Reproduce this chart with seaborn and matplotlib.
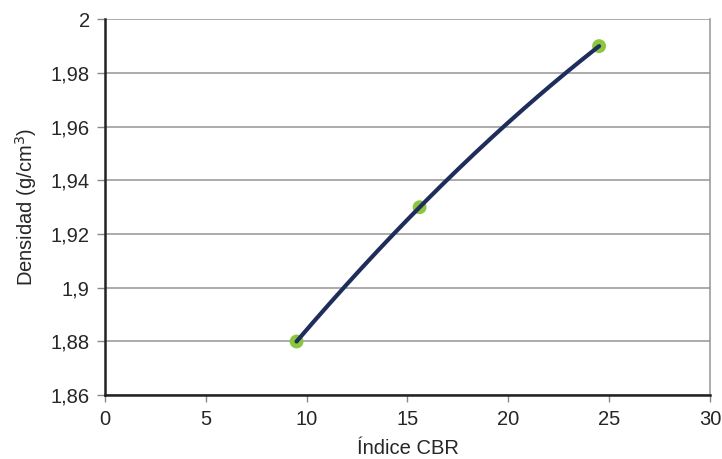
import numpy as np
import pandas as pd
import matplotlib
matplotlib.use("Agg")
import matplotlib.pyplot as plt
import seaborn as sns
from matplotlib.ticker import FuncFormatter

# data
cbr = [9.5, 15.6, 24.5]
densidad = [1.88, 1.93, 1.99]
x_ticks = [0, 5, 10, 15, 20, 25, 30]
y_ticks = [1.86, 1.88, 1.90, 1.92, 1.94, 1.96, 1.98, 2.00]

df = pd.DataFrame({"cbr": cbr, "densidad": densidad})

# smooth line through the three points (2nd order curve passes through all of them)
coef = np.polyfit(df["cbr"], df["densidad"], 2)
sx = np.linspace(df["cbr"].min(), df["cbr"].max(), 150)
curve = pd.DataFrame({"cbr": sx, "densidad": np.polyval(coef, sx)})

sns.set_theme(style="white")
plt.rcParams["font.family"] = ["Liberation Sans", "DejaVu Sans"]

fig = plt.figure(figsize=(7.22, 4.59), dpi=100)
ax = fig.add_axes([0.1454, 0.139, 0.838, 0.819])

for v in y_ticks:
    ax.axhline(v, color="#959595", lw=1.1, zorder=0)

sns.scatterplot(data=df, x="cbr", y="densidad", color="#8cc63f", s=100,
                edgecolor="none", ax=ax, zorder=2)
sns.lineplot(data=curve, x="cbr", y="densidad", color="#1f2d5c",
             lw=3.0, ax=ax, zorder=3)

ax.set_xlim(0, 30)
ax.set_ylim(1.86, 2.0)
ax.set_xticks(x_ticks)
ax.set_yticks(y_ticks)
ax.xaxis.set_major_formatter(FuncFormatter(lambda v, _: f"{v:g}"))
ax.yaxis.set_major_formatter(FuncFormatter(lambda v, _: f"{round(v, 2):g}".replace(".", ",")))
ax.tick_params(axis="y", direction="out", length=6, width=1.0, color="#888888",
               labelsize=14.5, labelcolor="#262626", left=True, pad=5)
ax.tick_params(axis="x", direction="out", length=5, width=1.0, color="#888888",
               labelsize=14.5, labelcolor="#262626", bottom=True, pad=6)

for side in ["left", "bottom"]:
    ax.spines[side].set_color("#222222")
    ax.spines[side].set_linewidth(1.8)
ax.spines["top"].set_visible(False)
ax.spines["right"].set_color("#959595")
ax.spines["right"].set_linewidth(1.1)

ax.set_xlabel("Índice CBR", fontsize=14.5, color="#262626", labelpad=7)
ax.set_ylabel("Densidad (g/cm$^3$)", fontsize=14.5, color="#262626", labelpad=8)

fig.savefig("out.png", dpi=100)
